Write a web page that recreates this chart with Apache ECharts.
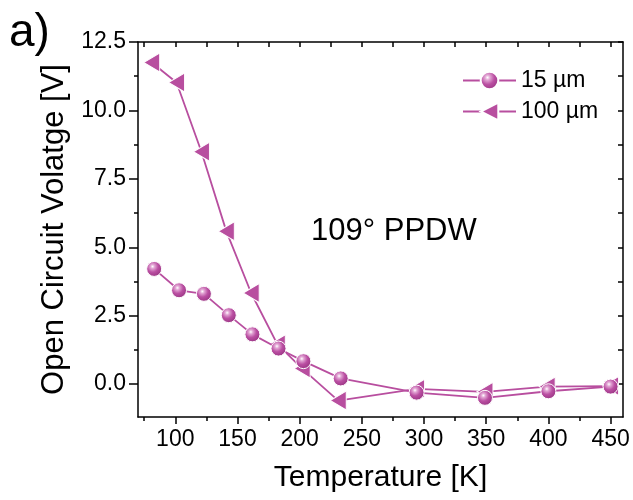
<!DOCTYPE html>
<html>
<head>
<meta charset="utf-8">
<script src="https://cdn.jsdelivr.net/npm/echarts@6/dist/echarts.min.js"></script>
<style>html,body{margin:0;padding:0;background:#fff}#c{width:633px;height:500px}</style>
</head>
<body>
<div id="c"></div>
<script>
// ---- data ----
var temps15 = [83, 103, 123, 143, 162, 183, 203, 233, 294, 349, 400, 450];
var voc15 = [4.21, 3.43, 3.30, 2.52, 1.82, 1.30, 0.84, 0.21, -0.31, -0.50, -0.26, -0.09];
var temps100 = [81, 101, 121, 141, 161, 182, 202, 231, 294, 349, 399, 450];
var voc100 = [11.75, 11.02, 8.49, 5.59, 3.33, 1.46, 0.57, -0.60, -0.17, -0.28, -0.09, -0.07];
var seriesNames = ['15 µm', '100 µm'];
var xMajorTicks = [100, 150, 200, 250, 300, 350, 400, 450];
var xMinorTicks = [75, 125, 175, 225, 275, 325, 375, 425];
var yMajorTicks = [0, 2.5, 5, 7.5, 10, 12.5];
var yMinorTicks = [1.25, 3.75, 6.25, 8.75, 11.25];

var FONT = '"Liberation Sans", Arial, sans-serif';
var COL = '#B84E9F';
function pairs(xs, ys) { return xs.map(function (x, i) { return [x, ys[i]]; }); }

var sphere = {
  type: 'radial', x: 0.4, y: 0.35, r: 0.7,
  colorStops: [
    { offset: 0, color: '#ffffff' },
    { offset: 0.18, color: '#e2a6d4' },
    { offset: 0.5, color: '#bb50a3' },
    { offset: 1, color: '#95317f' }
  ]
};

var allX = xMajorTicks.concat(xMinorTicks).sort(function (a, b) { return a - b; });
var allY = yMajorTicks.concat(yMinorTicks).sort(function (a, b) { return a - b; });

var xBase = { type: 'value', min: 70, max: 460, splitLine: { show: false } };
var yBase = { type: 'value', min: -1.2, max: 12.5, splitLine: { show: false } };
var lineStyleAxis = { color: '#000', width: 1.5 };
var tickLS = { color: '#000', width: 1.5 };

var option = {
  animation: false,
  backgroundColor: '#fff',
  grid: { left: 138, right: 10, top: 42, bottom: 83, containLabel: false },
  xAxis: [
    Object.assign({}, xBase, {
      position: 'bottom',
      axisLine: { show: true, onZero: false, lineStyle: lineStyleAxis },
      axisTick: { show: true, inside: false, length: 7, customValues: xMajorTicks, lineStyle: tickLS },
      axisLabel: { show: true, customValues: xMajorTicks, margin: 11, fontFamily: FONT, fontSize: 23, color: '#000' },
      name: 'Temperature [K]', nameLocation: 'middle', nameGap: 46,
      nameTextStyle: { fontFamily: FONT, fontSize: 30, color: '#000' }
    }),
    Object.assign({}, xBase, {
      position: 'bottom',
      axisLine: { show: false, onZero: false },
      axisTick: { show: true, inside: false, length: 4, customValues: xMinorTicks, lineStyle: tickLS },
      axisLabel: { show: false }
    }),
    Object.assign({}, xBase, {
      position: 'top',
      axisLine: { show: true, onZero: false, lineStyle: lineStyleAxis },
      axisTick: { show: true, inside: true, length: 5, customValues: allX, lineStyle: tickLS },
      axisLabel: { show: false }
    })
  ],
  yAxis: [
    Object.assign({}, yBase, {
      position: 'left',
      axisLine: { show: true, onZero: false, lineStyle: lineStyleAxis },
      axisTick: { show: true, inside: false, length: 9, customValues: yMajorTicks, lineStyle: tickLS },
      axisLabel: {
        show: true, customValues: yMajorTicks, margin: 12, fontFamily: FONT, fontSize: 23, color: '#000',
        formatter: function (v) { return v.toFixed(1); }
      },
      name: 'Open Circuit Volatge [V]', nameLocation: 'middle', nameGap: 67, nameRotate: 90,
      nameTextStyle: { fontFamily: FONT, fontSize: 31, color: '#000' }
    }),
    Object.assign({}, yBase, {
      position: 'left',
      axisLine: { show: false, onZero: false },
      axisTick: { show: true, inside: false, length: 4, customValues: yMinorTicks, lineStyle: tickLS },
      axisLabel: { show: false }
    }),
    Object.assign({}, yBase, {
      position: 'right',
      axisLine: { show: true, onZero: false, lineStyle: lineStyleAxis },
      axisTick: { show: true, inside: true, length: 5, customValues: allY, lineStyle: tickLS },
      axisLabel: { show: false }
    })
  ],
  legend: {
    orient: 'vertical', left: 462, top: 69, itemGap: 8, padding: 0,
    itemWidth: 53, itemHeight: 22,
    textStyle: { fontFamily: FONT, fontSize: 23, color: '#000' },
    data: seriesNames
  },
  graphic: [
    { type: 'text', left: 9, top: 10, style: { text: 'a)', font: '46px ' + FONT, fill: '#000' } },
    { type: 'text', left: 311, top: 216, style: { text: '109° PPDW', font: '31px ' + FONT, fill: '#000' } }
  ],
  series: [
    {
      name: seriesNames[1], type: 'line', xAxisIndex: 0, yAxisIndex: 0,
      data: pairs(temps100, voc100),
      symbol: 'triangle', symbolRotate: 90, symbolSize: [19, 16],
      lineStyle: { color: COL, width: 1.8 },
      itemStyle: { color: COL, borderColor: '#fff', borderWidth: 1 },
      z: 3
    },
    {
      name: seriesNames[0], type: 'line', xAxisIndex: 0, yAxisIndex: 0,
      data: pairs(temps15, voc15),
      symbol: 'circle', symbolSize: 15,
      lineStyle: { color: COL, width: 1.8 },
      itemStyle: { color: sphere, borderColor: '#fff', borderWidth: 1 },
      z: 4
    }
  ]
};
var chart = echarts.init(document.getElementById('c'), null, { renderer: 'canvas' });
chart.setOption(option);
</script>
</body>
</html>
